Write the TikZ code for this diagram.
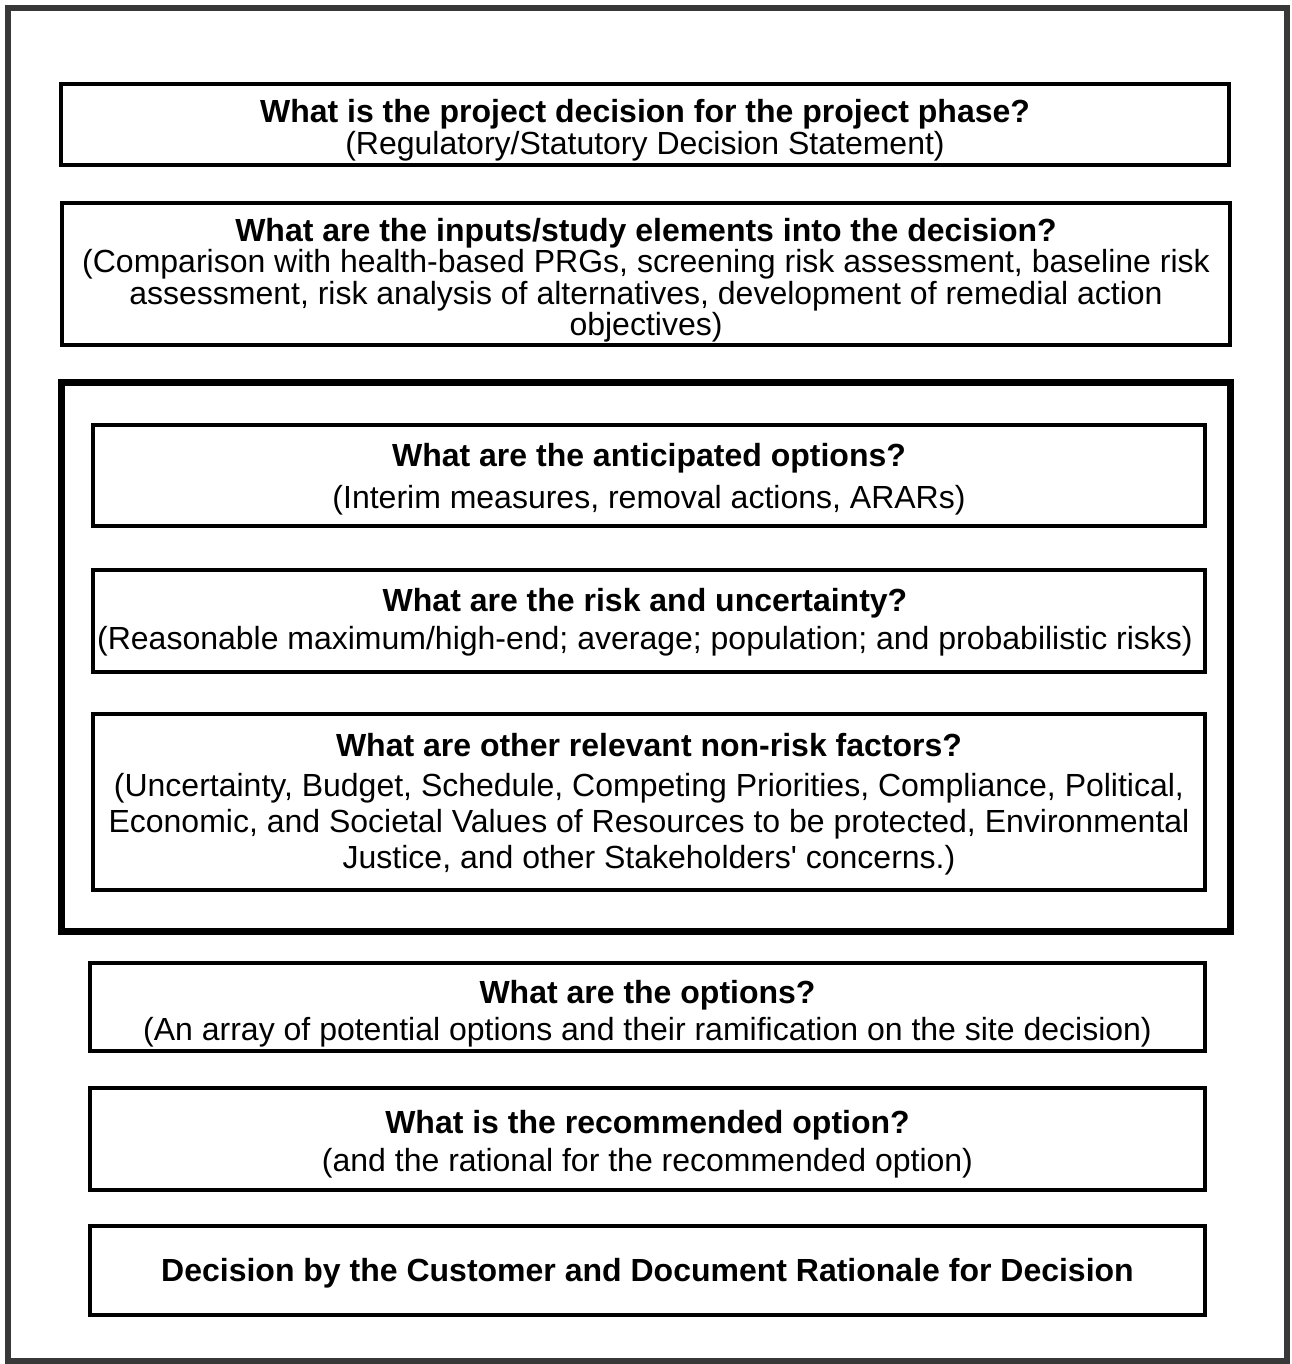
\documentclass[tikz,border=0pt]{standalone}
\usepackage{fontspec}
\setmainfont{Liberation Sans}
\definecolor{framegray}{HTML}{383838}
\begin{document}
\begin{tikzpicture}[x=1pt,y=-1pt,
  box/.style={draw=black, line width=4pt, inner sep=0pt, outer sep=0pt},
  txt/.style={inner sep=0pt, outer sep=0pt, align=center, font=\fontsize{32}{#1}\selectfont},
  txt/.default=32,
  bigbox/.style={draw=black, line width=7pt, inner sep=0pt, outer sep=0pt},
  frame/.style={draw=framegray, line width=6pt}]
\useasboundingbox (0,0) rectangle (1291,1364);
\draw[frame] (8,8) rectangle (1287,1361);
% top boxes
\node[box, minimum width=1168pt, minimum height=81.5pt] (decision) at (645,124.75) {};
\node[txt=32] (decisiontxt) at ([yshift=-5pt]decision.center)
  {\textbf{What is the project decision for the project phase?}\\(Regulatory/Statutory Decision Statement)};
\node[box, minimum width=1168pt, minimum height=142pt] (inputs) at (646,274) {};
\node[txt=31.5] (inputstxt) at ([yshift=-6pt]inputs.center)
  {\textbf{What are the inputs/study elements into the decision?}\\(Comparison with health-based PRGs, screening risk assessment, baseline risk\\assessment, risk analysis of alternatives, development of remedial action\\objectives)};
% big grouping box
\node[bigbox, minimum width=1169pt, minimum height=549pt] (group) at (646,656.5) {};
\node[box, minimum width=1112pt, minimum height=101pt] (anticip) at (649,475.5) {};
\node[txt=42] (anticiptxt) at ([yshift=-4pt]anticip.center)
  {\textbf{What are the anticipated options?}\\(Interim measures, removal actions, ARARs)};
\node[box, minimum width=1112pt, minimum height=102pt] (risk) at (649,621) {};
\node[txt=38] (risktxt) at ([yshift=-1pt,xshift=-4pt]risk.center)
  {\textbf{What are the risk and uncertainty?}\\(Reasonable maximum/high-end; average; population; and probabilistic risks)};
\node[box, minimum width=1112pt, minimum height=176pt] (nonrisk) at (649,802) {};
\node[txt=36] (nonrisktxt) at ([yshift=-2pt]nonrisk.center)
  {\textbf{What are other relevant non-risk factors?}\\[4pt](Uncertainty, Budget, Schedule, Competing Priorities, Compliance, Political,\\Economic, and Societal Values of Resources to be protected, Environmental\\Justice, and other Stakeholders\textquotesingle{} concerns.)};
% lower boxes
\node[box, minimum width=1115pt, minimum height=88pt] (options) at (647.5,1007) {};
\node[txt=37] (optionstxt) at ([yshift=-7pt]options.center)
  {\textbf{What are the options?}\\(An array of potential options and their ramification on the site decision)};
\node[box, minimum width=1115pt, minimum height=102pt] (recommend) at (647.5,1139) {};
\node[txt=38] (recommendtxt) at ([yshift=-5pt]recommend.center)
  {\textbf{What is the recommended option?}\\(and the rational for the recommended option)};
\node[box, minimum width=1115pt, minimum height=89pt] (customer) at (647.5,1270.5) {};
\node[txt] (customertxt) at ([yshift=-3pt]customer.center)
  {\textbf{Decision by the Customer and Document Rationale for Decision}};
\end{tikzpicture}
\end{document}
